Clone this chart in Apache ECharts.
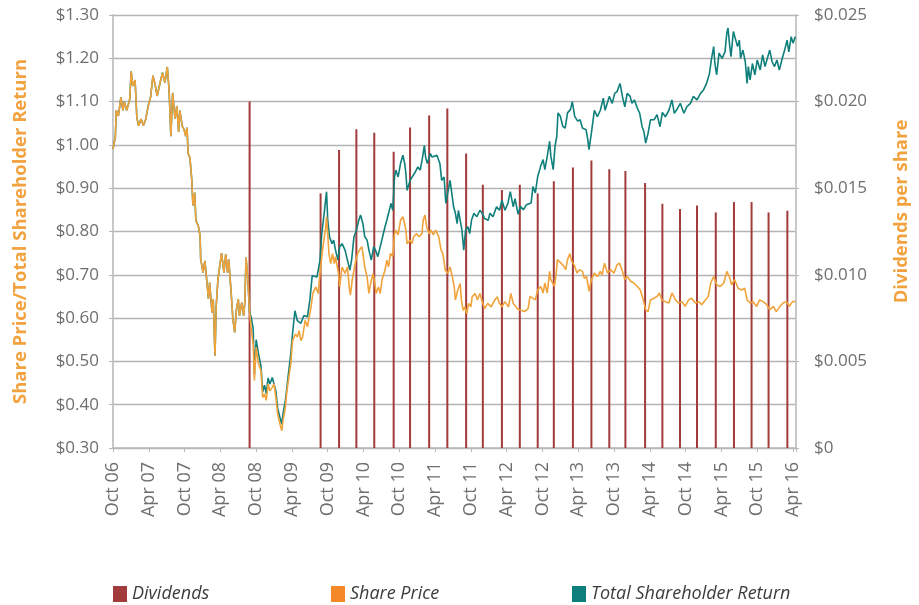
<!DOCTYPE html>
<html><head><meta charset="utf-8">
<script src="https://cdn.jsdelivr.net/npm/echarts@6/dist/echarts.min.js"></script>
<style>html,body{margin:0;padding:0;background:#fff}#c{width:919px;height:605px}</style>
</head><body><div id="c"></div>
<script>
// x values are months since Oct 2006
const tickLabels = ['Oct 06','Apr 07','Oct 07','Apr 08','Oct 08','Apr 09','Oct 09','Apr 10','Oct 10','Apr 11','Oct 11','Apr 12','Oct 12','Apr 13','Oct 13','Apr 14','Oct 14','Apr 15','Oct 15','Apr 16'];

const dividends = [[22.9,0.0200],[34.8,0.0147],[37.9,0.0172],[40.8,0.0184],[43.8,0.0182],[47.05,0.0171],[49.8,0.0185],[53.0,0.0192],[56.05,0.0196],[59.2,0.0170],[62.0,0.0152],[65.2,0.0149],[68.2,0.0152],[71.2,0.0147],[73.9,0.0154],[77.1,0.0162],[80.2,0.0166],[83.2,0.0161],[85.9,0.0160],[89.2,0.0153],[92.1,0.0141],[95.05,0.0138],[97.9,0.0140],[101.05,0.0136],[104.1,0.0142],[107.05,0.0142],[109.9,0.0136],[113.05,0.0137]];

const sharePrice = [[0,0.99],[0.4,1.02],[0.55,1.08],[0.9,1.067],[1.33,1.11],[1.67,1.08],[1.9,1.10],[2.3,1.08],[2.8,1.105],[3.05,1.17],[3.3,1.136],[3.7,1.15],[4.0,1.063],[4.3,1.044],[4.7,1.06],[5.1,1.045],[5.5,1.06],[5.9,1.09],[6.3,1.11],[6.7,1.16],[7.1,1.136],[7.4,1.113],[7.9,1.144],[8.3,1.167],[8.7,1.144],[9.1,1.18],[9.4,1.128],[9.7,1.02],[10.0,1.12],[10.4,1.06],[10.7,1.09],[11.0,1.03],[11.2,1.08],[11.6,1.044],[11.9,1.036],[12.2,1.02],[12.4,1.04],[12.6,0.98],[12.9,0.97],[13.2,0.92],[13.4,0.86],[13.7,0.89],[13.9,0.825],[14.3,0.813],[14.6,0.79],[14.7,0.736],[15.1,0.705],[15.4,0.732],[15.7,0.69],[16.0,0.644],[16.2,0.682],[16.6,0.613],[16.8,0.644],[17.1,0.513],[17.3,0.628],[17.6,0.69],[17.9,0.72],[18.2,0.75],[18.6,0.705],[18.9,0.748],[19.2,0.705],[19.4,0.736],[19.8,0.66],[20.1,0.598],[20.4,0.567],[20.7,0.62],[21.0,0.644],[21.2,0.605],[21.6,0.636],[21.9,0.605],[22.1,0.636],[22.3,0.74],[22.6,0.69],[22.9,0.613],
[23.2,0.571],[23.5,0.54],[23.7,0.456],[24.0,0.533],[24.4,0.494],[24.8,0.479],[25.1,0.417],[25.4,0.425],[25.7,0.41],[26.0,0.448],[26.3,0.432],[26.7,0.44],[27.0,0.448],[27.3,0.417],[27.6,0.379],[28.0,0.355],[28.3,0.34],[28.5,0.363],[28.9,0.394],[29.1,0.425],[29.4,0.456],[29.8,0.494],[30.1,0.548],[30.6,0.563],[30.9,0.556],[31.2,0.571],[31.5,0.548],[31.8,0.557],[32.2,0.595],[32.6,0.58],[33.2,0.626],[33.5,0.657],[34.0,0.672],[34.4,0.657],[34.7,0.703],[35.0,0.742],[35.2,0.765],[35.6,0.803],[35.8,0.834],[36.0,0.795],[36.2,0.749],[36.5,0.726],[36.8,0.749],[37.1,0.726],[37.3,0.742],[37.8,0.703],[38.0,0.672],[38.4,0.718],[38.9,0.703],[39.3,0.718],[39.6,0.672],[39.8,0.653],[40.1,0.688],[40.6,0.726],[41.0,0.749],[41.3,0.757],[41.7,0.765],[41.9,0.749],[42.2,0.718],[42.6,0.695],[42.9,0.657],[43.2,0.68],[43.6,0.703],[43.9,0.68],[44.1,0.657],[44.5,0.672],[44.8,0.657],[45.1,0.688],[45.6,0.711],[45.9,0.734],[46.2,0.718],[46.5,0.749],[46.9,0.742],[47.2,0.795],[47.4,0.803],[47.8,0.792],[48.2,0.826],[48.6,0.834],[48.9,0.818],[49.1,0.803],[49.3,0.772],[49.8,0.78],[50.1,0.772],[50.4,0.788],[50.9,0.795],[51.3,0.788],[51.8,0.795],[52.0,0.826],[52.3,0.838],[52.6,0.81],[53.0,0.795],[53.3,0.803],[53.7,0.792],[54.1,0.803],[54.6,0.788],[55.0,0.757],[55.3,0.749],[55.7,0.711],[56.1,0.703],[56.5,0.718],[56.9,0.695],[57.2,0.672],[57.4,0.642],[57.8,0.665],[58.2,0.68],[58.4,0.642],[58.7,0.618],[59.0,0.626],[59.3,0.61],[59.6,0.634],[60.0,0.626],[60.2,0.649],[60.7,0.657],[61.1,0.642],[61.5,0.657],[61.9,0.638],[62.3,0.622],[62.8,0.634],[63.4,0.626],[64.0,0.642],[64.4,0.649],[64.8,0.634],[65.2,0.626],[65.7,0.638],[66.3,0.626],[66.7,0.657],[67.1,0.634],[67.4,0.638],[67.9,0.62],[68.4,0.618],[69.0,0.615],[69.6,0.622],[69.9,0.65],[70.8,0.642],[71.2,0.665],[71.7,0.673],[72.1,0.658],[72.4,0.681],[72.8,0.658],[73.2,0.708],[73.4,0.689],[74.0,0.673],[74.3,0.704],[74.5,0.735],[74.8,0.739],[75.1,0.727],[75.6,0.719],[75.9,0.712],[76.2,0.735],[76.6,0.749],[76.9,0.731],[77.3,0.723],[77.8,0.704],[78.2,0.712],[78.7,0.708],[79.0,0.692],[79.4,0.696],[79.8,0.662],[80.2,0.689],[80.7,0.704],[81.2,0.696],[81.7,0.708],[82.0,0.7],[82.4,0.727],[82.9,0.704],[83.4,0.712],[84.0,0.704],[84.5,0.723],[84.9,0.727],[85.4,0.708],[85.8,0.689],[86.2,0.696],[86.8,0.685],[87.3,0.681],[87.9,0.673],[88.4,0.665],[88.9,0.642],[89.3,0.619],[89.7,0.615],[90.1,0.642],[90.7,0.646],[91.2,0.65],[91.6,0.658],[92.0,0.642],[92.6,0.638],[93.2,0.635],[93.7,0.658],[94.3,0.642],[94.8,0.635],[95.4,0.638],[95.9,0.627],[96.5,0.642],[97.0,0.646],[97.6,0.635],[98.2,0.638],[98.7,0.631],[99.3,0.642],[99.8,0.65],[100.2,0.681],[100.7,0.696],[101.2,0.677],[101.8,0.673],[102.4,0.681],[102.9,0.708],[103.3,0.696],[103.7,0.677],[104.2,0.689],[104.8,0.669],[105.4,0.665],[105.9,0.669],[106.3,0.642],[106.8,0.635],[107.3,0.638],[107.9,0.627],[108.4,0.642],[109.0,0.638],[109.6,0.631],[110.1,0.619],[110.7,0.627],[111.2,0.615],[111.8,0.627],[112.3,0.635],[112.9,0.638],[113.4,0.627],[113.9,0.638],[114.4,0.638]];

const totalShareholderReturn = [[0,0.99],[0.4,1.02],[0.55,1.08],[0.9,1.067],[1.33,1.11],[1.67,1.08],[1.9,1.10],[2.3,1.08],[2.8,1.105],[3.05,1.17],[3.3,1.136],[3.7,1.15],[4.0,1.063],[4.3,1.044],[4.7,1.06],[5.1,1.045],[5.5,1.06],[5.9,1.09],[6.3,1.11],[6.7,1.16],[7.1,1.136],[7.4,1.113],[7.9,1.144],[8.3,1.167],[8.7,1.144],[9.1,1.18],[9.4,1.128],[9.7,1.02],[10.0,1.12],[10.4,1.06],[10.7,1.09],[11.0,1.03],[11.2,1.08],[11.6,1.044],[11.9,1.036],[12.2,1.02],[12.4,1.04],[12.6,0.98],[12.9,0.97],[13.2,0.92],[13.4,0.86],[13.7,0.89],[13.9,0.825],[14.3,0.813],[14.6,0.79],[14.7,0.736],[15.1,0.705],[15.4,0.732],[15.7,0.69],[16.0,0.644],[16.2,0.682],[16.6,0.613],[16.8,0.644],[17.1,0.513],[17.3,0.628],[17.6,0.69],[17.9,0.72],[18.2,0.75],[18.6,0.705],[18.9,0.748],[19.2,0.705],[19.4,0.736],[19.8,0.66],[20.1,0.598],[20.4,0.567],[20.7,0.62],[21.0,0.644],[21.2,0.605],[21.6,0.636],[21.9,0.605],[22.1,0.636],[22.3,0.74],[22.6,0.69],[22.9,0.613],
[23.2,0.60],[23.5,0.575],[23.7,0.47],[24.0,0.55],[24.4,0.517],[24.8,0.49],[25.1,0.43],[25.4,0.445],[25.7,0.425],[26.0,0.462],[26.3,0.448],[26.7,0.463],[27.0,0.46],[27.3,0.432],[27.6,0.392],[28.0,0.37],[28.3,0.355],[28.5,0.379],[28.9,0.41],[29.1,0.433],[29.4,0.47],[29.8,0.517],[30.1,0.565],[30.5,0.617],[30.9,0.594],[31.2,0.595],[31.5,0.588],[32.0,0.606],[32.6,0.603],[33.0,0.642],[33.4,0.698],[33.7,0.70],[34.2,0.695],[34.7,0.734],[35.0,0.795],[35.4,0.842],[35.8,0.892],[36.0,0.826],[36.3,0.788],[36.7,0.772],[37.0,0.78],[37.3,0.757],[37.7,0.734],[38.0,0.765],[38.4,0.772],[38.9,0.757],[39.3,0.734],[39.7,0.711],[40.0,0.734],[40.4,0.788],[40.8,0.803],[41.2,0.826],[41.5,0.838],[41.9,0.818],[42.2,0.788],[42.6,0.78],[42.9,0.757],[43.3,0.734],[43.7,0.765],[44.0,0.757],[44.4,0.742],[44.8,0.765],[45.2,0.788],[45.6,0.811],[45.9,0.826],[46.2,0.842],[46.6,0.865],[46.9,0.849],[47.2,0.926],[47.4,0.942],[47.8,0.926],[48.2,0.957],[48.6,0.976],[48.9,0.957],[49.1,0.934],[49.3,0.895],[49.8,0.918],[50.0,0.922],[50.7,0.938],[51.1,0.949],[51.5,0.942],[51.9,0.972],[52.2,0.999],[52.4,0.972],[52.7,0.957],[53.2,0.98],[53.5,0.972],[53.8,0.968],[54.3,0.976],[54.8,0.957],[55.1,0.918],[55.5,0.926],[55.8,0.865],[56.1,0.888],[56.5,0.918],[56.8,0.888],[57.1,0.857],[57.4,0.842],[57.7,0.818],[57.9,0.849],[58.5,0.803],[58.8,0.757],[59.1,0.803],[59.5,0.811],[59.8,0.795],[60.1,0.826],[60.5,0.842],[61.0,0.834],[61.5,0.849],[61.9,0.842],[62.3,0.83],[62.9,0.826],[63.2,0.842],[63.7,0.834],[64.3,0.857],[64.8,0.849],[65.2,0.872],[65.7,0.849],[66.2,0.865],[66.6,0.892],[67.1,0.857],[67.4,0.876],[67.9,0.84],[68.3,0.858],[68.8,0.85],[69.3,0.862],[70.1,0.866],[70.4,0.904],[70.8,0.889],[71.2,0.927],[71.7,0.951],[72.1,0.966],[72.4,0.943],[72.8,0.974],[73.2,1.008],[73.4,0.974],[73.8,0.943],[74.1,0.997],[74.4,1.02],[74.6,1.074],[75.0,1.066],[75.4,1.043],[75.8,1.039],[76.2,1.074],[76.7,1.082],[77.0,1.10],[77.4,1.066],[77.9,1.055],[78.3,1.058],[78.7,1.039],[79.3,1.035],[79.6,1.012],[79.8,0.989],[80.2,1.028],[80.7,1.08],[81.2,1.065],[81.7,1.08],[82.2,1.108],[82.5,1.08],[83.2,1.112],[83.7,1.096],[84.1,1.119],[84.5,1.123],[85.0,1.142],[85.4,1.112],[85.8,1.088],[86.2,1.119],[86.7,1.112],[87.0,1.096],[87.4,1.104],[87.9,1.085],[88.3,1.073],[88.7,1.042],[89.0,1.031],[89.3,1.004],[89.7,1.027],[90.1,1.058],[90.7,1.058],[91.2,1.07],[91.7,1.042],[92.1,1.075],[92.6,1.065],[93.2,1.08],[93.7,1.104],[94.1,1.073],[94.5,1.081],[95.1,1.096],[95.7,1.073],[96.2,1.088],[96.8,1.096],[97.3,1.112],[97.9,1.104],[98.5,1.119],[99.0,1.127],[99.5,1.142],[100.0,1.165],[100.3,1.196],[100.7,1.227],[100.9,1.188],[101.2,1.162],[101.6,1.212],[102.1,1.20],[102.6,1.215],[102.9,1.258],[103.1,1.27],[103.4,1.227],[103.6,1.204],[104.0,1.262],[104.4,1.242],[104.7,1.227],[105.0,1.242],[105.2,1.20],[105.6,1.219],[106.0,1.192],[106.3,1.142],[106.5,1.181],[106.8,1.15],[107.2,1.188],[107.6,1.162],[108.0,1.196],[108.5,1.173],[108.9,1.208],[109.3,1.181],[109.7,1.20],[110.1,1.219],[110.5,1.192],[110.9,1.181],[111.3,1.196],[111.7,1.173],[112.2,1.20],[112.6,1.219],[113.0,1.242],[113.3,1.215],[113.7,1.25],[114.0,1.235],[114.4,1.25]];

const leftTicks = {min: 0.3, max: 1.3, interval: 0.1};
const rightTicks = {min: 0, max: 0.025, interval: 0.005};

const FONT = '"Open Sans", "Noto Sans", sans-serif';
const chart = echarts.init(document.getElementById('c'), null, {renderer: 'canvas'});
const legendText = {fontFamily: FONT, fontSize: 18, fontStyle: 'italic', color: '#3c3c3c'};
const legendBase = {top: 585, padding: 0, itemWidth: 14, itemHeight: 16, itemGap: 0, textStyle: legendText, selectedMode: false};
chart.setOption({
  animation: false,
  backgroundColor: '#ffffff',
  grid: {left: 113, right: 119, top: 15, bottom: 157, containLabel: false},
  legend: [
    Object.assign({left: 113, data: [{name: 'Dividends', icon: 'rect', itemStyle: {color: '#a23b3b'}}]}, legendBase),
    Object.assign({left: 331, data: [{name: 'Share Price', icon: 'rect', itemStyle: {color: '#f5892a'}}]}, legendBase),
    Object.assign({left: 572, data: [{name: 'Total Shareholder Return', icon: 'rect', itemStyle: {color: '#0f7f7b'}}]}, legendBase)
  ],
  xAxis: {
    type: 'value', min: 0, max: 114.5, interval: 6,
    axisLine: {show: true, lineStyle: {color: '#b8b8b8', width: 1.5}},
    axisTick: {show: true, length: 4, lineStyle: {color: '#b8b8b8'}},
    splitLine: {show: false},
    axisLabel: {rotate: 90, margin: 14, fontFamily: FONT, fontSize: 18, color: '#6f6f6f',
      formatter: v => (Math.abs(v % 6) < 1e-9 && v/6 < tickLabels.length) ? tickLabels[Math.round(v/6)] : ''}
  },
  yAxis: [
    {type: 'value', min: leftTicks.min, max: leftTicks.max, interval: leftTicks.interval, position: 'left',
     name: 'Share Price/Total Shareholder Return', nameLocation: 'middle', nameGap: 83,
     nameTextStyle: {fontFamily: FONT, fontSize: 18.5, fontWeight: 'bold', color: '#f2a33f'},
     axisLine: {show: true, lineStyle: {color: '#c8c8c8', width: 2}},
     axisTick: {show: true, length: 4, lineStyle: {color: '#b4b4b4'}},
     splitLine: {show: true, lineStyle: {color: '#b4b4b4', width: 1.3}},
     axisLabel: {margin: 14, fontFamily: FONT, fontSize: 17, color: '#6f6f6f', formatter: v => '$' + v.toFixed(2)}},
    {type: 'value', min: rightTicks.min, max: rightTicks.max, interval: rightTicks.interval, position: 'right',
     name: 'Dividends per share', nameLocation: 'middle', nameGap: 96,
     nameTextStyle: {fontFamily: FONT, fontSize: 18.5, fontWeight: 'bold', color: '#f2a33f', padding: [0, 0, 0, 40]},
     axisLine: {show: true, lineStyle: {color: '#c8c8c8', width: 2}},
     axisTick: {show: true, length: 3, lineStyle: {color: '#b4b4b4'}},
     splitLine: {show: false},
     axisLabel: {margin: 18, fontFamily: FONT, fontSize: 17, color: '#6f6f6f',
       formatter: v => v === 0 ? '$0' : '$' + v.toFixed(3)}}
  ],
  series: [
    {name: 'Dividends', type: 'bar', yAxisIndex: 1, data: dividends, barWidth: 2,
     itemStyle: {color: '#a23b3b'}, z: 2},
    {name: 'Total Shareholder Return', type: 'line', data: totalShareholderReturn, showSymbol: false, symbol: 'none',
     lineStyle: {color: '#0f7f7b', width: 1.6}, itemStyle: {color: '#0f7f7b'}, z: 3},
    {name: 'Share Price', type: 'line', data: sharePrice, showSymbol: false, symbol: 'none',
     lineStyle: {color: '#f0a33a', width: 1.6}, itemStyle: {color: '#f0a33a'}, z: 4}
  ]
});
</script></body></html>
